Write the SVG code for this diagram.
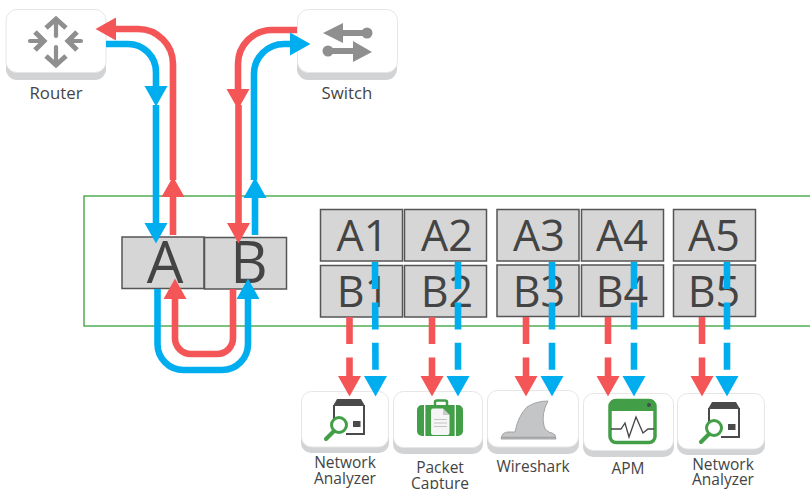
<svg xmlns="http://www.w3.org/2000/svg" width="810" height="489" viewBox="0 0 810 489">
<style>
text{font-family:"Open Sans","DejaVu Sans",sans-serif;fill:#444;text-anchor:middle}
.lbl{font-size:15.500px}
.top{font-size:16.800px}
.big{font-size:43px}
.huge{font-size:58px}
.box{fill:#d6d6d6;stroke:#555;stroke-width:1.5}
.card{fill:#fff;stroke:#e6e6e6;stroke-width:1}
.shadow{fill:#d2d3d5}
.r,.b{fill:none;stroke-width:6.600}
.r{stroke:#f45557}
.b{stroke:#00aeef}
.d{stroke-dasharray:27 13.4}
.g{fill:#8f8f8f}
.gs{stroke:#8f8f8f;stroke-width:4.2;fill:none;stroke-linecap:round}
.gc{stroke:#8f8f8f;stroke-width:5;fill:none}
.dk{fill:#4a4a4a}
.gr{fill:#439f47}
</style>
<defs>
<marker id="hr" markerUnits="userSpaceOnUse" markerWidth="24" markerHeight="24" refX="0" refY="12" orient="auto"><path d="M0 .5L20.500 12L0 23.500Z" fill="#f45557"/></marker>
<marker id="hb" markerUnits="userSpaceOnUse" markerWidth="24" markerHeight="24" refX="0" refY="12" orient="auto"><path d="M0 .5L20.500 12L0 23.500Z" fill="#00aeef"/></marker>
<g id="na">
<path class="dk" d="M-8 -32H16L20 -25H-12Z"/>
<path d="M-11 -26V-11M19 -26V3H1" fill="none" stroke="#4a4a4a" stroke-width="2"/>
<rect class="dk" x="8" y="-10" width="7.500" height="6"/>
<circle cx="-6" cy="-6" r="7.500" fill="none" stroke="#439f47" stroke-width="3"/>
<path d="M-11 0L-19 8" stroke="#439f47" stroke-width="4" stroke-linecap="round" fill="none"/>
</g>
</defs>

<rect x="84" y="196" width="730" height="130" fill="#fff" stroke="#45a747" stroke-width="1.400"/>

<g id="router">
<rect class="shadow" x="6" y="14" width="100" height="66" rx="11"/>
<rect class="card" x="6" y="9.500" width="100" height="63" rx="11"/>
<path class="gc" d="M46 28L56 19L66 28M46 56L56 65L66 56M35 32L44 41L35 50M77 32L68 41L77 50"/>
<path class="gs" d="M56 22V36M56 47V61M30 41H42M70 41H81"/>
<text class="lbl top" x="56" y="98.500">Router</text>
</g>
<g id="switch">
<rect class="shadow" x="297" y="14" width="100" height="66" rx="11"/>
<rect class="card" x="297.500" y="9.500" width="100" height="63" rx="11"/>
<path class="g" d="M323 33L343 23V30H365V36H343V43Z M372 52L353 41V48H330V54H353V62Z"/>
<circle class="g" cx="367" cy="33" r="5.500"/><circle class="g" cx="328" cy="51" r="5.500"/>
<text class="lbl top" x="347" y="98.500">Switch</text>
</g>

<g id="A"><rect class="box" x="122" y="237" width="82" height="51.500"/><text class="huge" x="165" y="283">A</text></g>
<g id="B"><rect class="box" x="204.500" y="237.500" width="82" height="51.500"/><text class="huge" x="249" y="283">B</text></g>
<g id="A1"><rect class="box" x="320.500" y="209.500" width="82" height="51.500"/><text class="big" x="362.500" y="251">A1</text></g>
<g id="B1"><rect class="box" x="320.500" y="265.500" width="82" height="51.500"/><text class="big" x="363" y="307">B1</text></g>
<g id="A2"><rect class="box" x="404.500" y="209.500" width="82" height="51.500"/><text class="big" x="447" y="251">A2</text></g>
<g id="B2"><rect class="box" x="404.500" y="265.500" width="82" height="51.500"/><text class="big" x="447" y="307">B2</text></g>
<g id="A3"><rect class="box" x="497" y="209.500" width="82" height="51.500"/><text class="big" x="539" y="251">A3</text></g>
<g id="B3"><rect class="box" x="497" y="265" width="82" height="51.500"/><text class="big" x="539" y="307">B3</text></g>
<g id="A4"><rect class="box" x="581.500" y="209.500" width="82" height="51.500"/><text class="big" x="622" y="251">A4</text></g>
<g id="B4"><rect class="box" x="581.500" y="265" width="82" height="51.500"/><text class="big" x="622" y="307">B4</text></g>
<g id="A5"><rect class="box" x="673.500" y="209.500" width="82" height="51.500"/><text class="big" x="714" y="251">A5</text></g>
<g id="B5"><rect class="box" x="673.500" y="265" width="82" height="51.500"/><text class="big" x="714" y="307">B5</text></g>

<g id="na1">
<rect class="shadow" x="301" y="396" width="88" height="57" rx="10"/>
<rect class="card" x="301.500" y="391.500" width="87" height="55.500" rx="10"/>
<use href="#na" x="345" y="431"/>
<text class="lbl"><tspan x="345" y="468">Network</tspan><tspan x="345" y="484">Analyzer</tspan></text>
</g>
<g id="packet">
<rect class="shadow" x="393" y="396" width="90" height="58" rx="10"/>
<rect class="card" x="393.500" y="391.500" width="89" height="56" rx="10"/>
<rect class="gr" x="417" y="405" width="46" height="31" rx="5"/>
<path d="M435 405V402Q435 400.500 437 400.500H445Q447 400.500 447 402V405" fill="none" stroke="#439f47" stroke-width="2.500"/>
<path d="M424.700 405V436M455.300 405V436" stroke="#fff" stroke-width="1.300"/>
<path d="M433 408.500H443L449.500 415V433Q449.500 435 447.500 435H433Q431 435 431 433V410.500Q431 408.500 433 408.500Z" fill="#f5f5f5"/>
<path d="M443 408.500L449.500 415H443Z" fill="#c9c9c9"/>
<path d="M434 419.500H447M434 423H447M434 426.500H447" stroke="#c4c4c4" stroke-width="1"/>
<text class="lbl"><tspan x="440" y="473">Packet</tspan><tspan x="440" y="488.500">Capture</tspan></text>
</g>
<g id="wireshark">
<rect class="shadow" x="487" y="395" width="92" height="59" rx="10"/>
<rect class="card" x="487.500" y="390.500" width="91" height="56.500" rx="10"/>
<path d="M501 439Q502 432 508 432H515Q518 416 527 407Q536 401 548 401Q541 414 544 426Q546 432 552 433Q556 434 556 439Z" fill="#c4c5c7" stroke="#9c9c9c" stroke-width=".9"/>
<path d="M502 437.500H555" stroke="#a3a3a3" stroke-width="1.500"/>
<text class="lbl" x="533" y="472">Wireshark</text>
</g>
<g id="apm">
<rect class="shadow" x="583" y="398" width="91" height="59" rx="10"/>
<rect class="card" x="583.500" y="393.500" width="90" height="57" rx="10"/>
<rect x="610" y="400.500" width="45" height="42" rx="6" fill="#fff" stroke="#439f47" stroke-width="3.500"/>
<path class="gr" d="M610 411V405Q610 399 616 399H649Q655 399 655 405V411Z"/>
<circle class="dk" cx="649" cy="405" r="2"/>
<path d="M611 429H621L625 423L629 437L636 417L643 433L648 429H654" fill="none" stroke="#444" stroke-width="1.300"/>
<text class="lbl" x="628" y="474">APM</text>
</g>
<g id="na2">
<rect class="shadow" x="677" y="398" width="88" height="57" rx="10"/>
<rect class="card" x="677.500" y="393.500" width="87" height="55.500" rx="10"/>
<use href="#na" x="720" y="434"/>
<text class="lbl"><tspan x="723" y="469.500">Network</tspan><tspan x="723" y="485">Analyzer</tspan></text>
</g>

<g id="connectors">
<path class="b" d="M106 44H128A28 28 0 0 1 156 72V86" marker-end="url(#hb)"/>
<path class="b" d="M156 105V223" marker-end="url(#hb)"/>
<path class="r" d="M173 235V197" marker-end="url(#hr)"/>
<path class="r" d="M173 180V64A35 35 0 0 0 138 29H116" marker-end="url(#hr)"/>
<path class="r" d="M297 30H272A34 34 0 0 0 238 64V89" marker-end="url(#hr)"/>
<path class="r" d="M238.500 105V223" marker-end="url(#hr)"/>
<path class="b" d="M255 235V198" marker-end="url(#hb)"/>
<path class="b" d="M254 180V74A30 30 0 0 1 284 44H290" marker-end="url(#hb)"/>
<path class="b" d="M157.500 289V344A26 26 0 0 0 183.500 370H222A26 26 0 0 0 248 344V299" marker-end="url(#hb)"/>
<path class="r" d="M233 289V338A16 16 0 0 1 217 354H191A16 16 0 0 1 175 338V299" marker-end="url(#hr)"/>
<path class="r d" d="M349.500 317V376" marker-end="url(#hr)"/>
<path class="b d" d="M375 262L375.500 376" marker-end="url(#hb)"/>
<path class="r d" d="M432 317V376" marker-end="url(#hr)"/>
<path class="b d" d="M458 262V376" marker-end="url(#hb)"/>
<path class="r d" d="M526 317V376" marker-end="url(#hr)"/>
<path class="b d" d="M552 262V376" marker-end="url(#hb)"/>
<path class="r d" d="M608 317V376" marker-end="url(#hr)"/>
<path class="b d" d="M634 262V376" marker-end="url(#hb)"/>
<path class="r d" d="M702 317V376" marker-end="url(#hr)"/>
<path class="b d" d="M727 262V376" marker-end="url(#hb)"/>
</g>
</svg>
